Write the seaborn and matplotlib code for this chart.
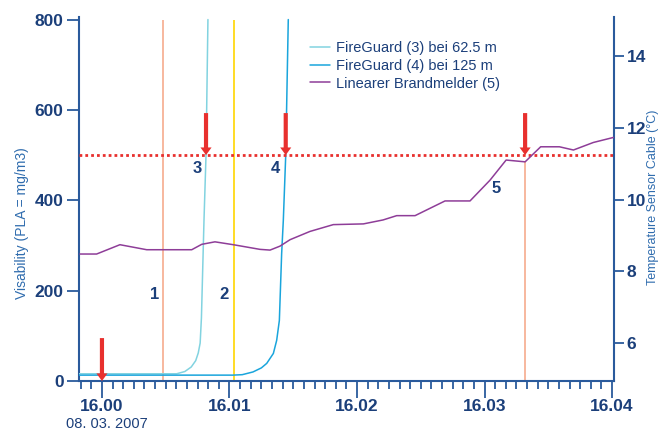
import numpy as np
import pandas as pd
import matplotlib
matplotlib.use("Agg")
import matplotlib.pyplot as plt
from matplotlib.ticker import FixedLocator
from matplotlib.lines import Line2D
import seaborn as sns

# ── Data (x in minutes after 16:00) ──────────────────────────────────────────
fg3_t = [-0.18, 0.50, 0.586, 0.65, 0.70, 0.735, 0.755, 0.77, 0.78, 0.80, 0.816, 0.831]
fg3_v = [16, 16, 16, 21, 31, 45, 62, 84, 140, 355, 500, 800]

fg4_t = [-0.18, 1.027, 1.10, 1.184, 1.25, 1.292, 1.344, 1.370, 1.391, 1.409, 1.422, 1.441, 1.461]
fg4_v = [13, 13, 14, 20, 29, 39, 61, 90, 134, 282, 355, 500, 800]

lbm_t = [-0.173, -0.042, 0.141, 0.351, 0.704, 0.782, 0.886, 1.03, 1.239, 1.318,
         1.396, 1.475, 1.631, 1.814, 2.05, 2.204, 2.311, 2.455, 2.69, 2.886,
         3.043, 3.169, 3.318, 3.44, 3.587, 3.697, 3.853, 4.01]
lbm_v = [8.48, 8.48, 8.74, 8.60, 8.60, 8.75, 8.82, 8.74, 8.61, 8.59,
         8.70, 8.88, 9.11, 9.30, 9.32, 9.43, 9.55, 9.55, 9.96, 9.96,
         10.54, 11.10, 11.05, 11.47, 11.47, 11.38, 11.59, 11.73]

threshold = 500
alarm_t = [0.478, 1.035, 3.318]          # 1, 2, 5
arrow_t = [0.0, 0.816, 1.441, 3.318]
arrow_top = [95, 593, 593, 593]
arrow_tip = [0, 500, 500, 500]
num_labels = ["1", "2", "3", "4", "5"]
num_t = [0.416, 0.957, 0.745, 1.357, 3.09]
num_v = [192, 192, 471, 471, 425]

xticks = [0, 1, 2, 3, 4]
xticklabels = ["16.00", "16.01", "16.02", "16.03", "16.04"]
xminor = [i / 12 for i in range(-2, 49) if i % 12 != 0]   # every 5 s
date_label = "08. 03. 2007"

# ── Style ────────────────────────────────────────────────────────────────────
NAVY = "#1b3f7a"
AXBLUE = "#2a5a9c"
LABBLUE = "#2f6cae"
C_FG3 = "#82d3e0"
C_FG4 = "#1aa5dc"
C_LBM = "#8e3d98"
SALMON = "#f6ab8e"
YELLOW = "#ffd500"
RED = "#e8302e"

sns.set_style("white")
plt.rcParams["font.family"] = ["Liberation Sans", "DejaVu Sans"]

fig = plt.figure(figsize=(6.72, 4.32), dpi=100)
ax = fig.add_axes([79 / 672, 1 - 381 / 432, (614 - 79) / 672, (381 - 17.3) / 432])
ax2 = ax.twinx()

df3 = pd.DataFrame({"t": fg3_t, "v": fg3_v})
df4 = pd.DataFrame({"t": fg4_t, "v": fg4_v})
df5 = pd.DataFrame({"t": lbm_t, "v": lbm_v})

# alarm lines
ax.vlines(alarm_t[0], 0, 800, color=SALMON, lw=1.2, zorder=1)
ax.vlines(alarm_t[1], 0, 800, color=YELLOW, lw=1.2, zorder=1)
ax.vlines(alarm_t[2], 0, 485, color=SALMON, lw=1.2, zorder=1)

sns.lineplot(data=df3, x="t", y="v", ax=ax, color=C_FG3, lw=1.1, sort=False, zorder=3)
sns.lineplot(data=df4, x="t", y="v", ax=ax, color=C_FG4, lw=1.1, sort=False, zorder=3)
sns.lineplot(data=df5, x="t", y="v", ax=ax2, color=C_LBM, lw=1.1, sort=False, zorder=3)

ax.axhline(threshold, color=RED, lw=2, dashes=(1, 1.1), zorder=4)

for t, top, tip in zip(arrow_t, arrow_top, arrow_tip):
    ax.annotate("", xy=(t, tip), xytext=(t, top),
                arrowprops=dict(facecolor=RED, edgecolor="none", width=3,
                                headwidth=8, headlength=5.5, shrink=0),
                zorder=5)

for lab, t, v in zip(num_labels, num_t, num_v):
    ax.text(t, v, lab, color=NAVY, fontsize=12, fontweight="bold",
            ha="center", va="center", zorder=6)

# axes ranges
ax.set_xlim(-0.18, 4.015)
ax.set_ylim(0, 805)
ax2.set_ylim(4.94, 15.08)

ax.xaxis.set_major_locator(FixedLocator(xticks))
ax.set_xticklabels(xticklabels)
ax.xaxis.set_minor_locator(FixedLocator(xminor))
ax.set_yticks([0, 200, 400, 600, 800])
ax2.set_yticks([6, 8, 10, 12, 14])

for a in (ax, ax2):
    a.set_xlabel("")
    a.set_ylabel("")
    for s in a.spines.values():
        s.set_color(AXBLUE)
        s.set_linewidth(1.5)
    a.spines["top"].set_visible(False)
ax.spines["right"].set_visible(False)
ax2.spines["left"].set_visible(False)
ax2.spines["bottom"].set_visible(False)

ax.tick_params(axis="x", which="major", bottom=True, length=12, width=1.3, color=AXBLUE,
               labelsize=12.5, labelcolor=NAVY, pad=1, direction="out")
ax.tick_params(axis="x", which="minor", bottom=True, length=6, width=1.3,
               color=AXBLUE, direction="out")
ax.tick_params(axis="y", left=True, length=9, width=1.3, color=AXBLUE, labelsize=12.5,
               labelcolor=NAVY, pad=2)
ax2.tick_params(axis="y", right=True, length=7, width=1.3, color=AXBLUE, labelsize=12.5,
                labelcolor=NAVY, pad=2)
for lab in ax.get_xticklabels() + ax.get_yticklabels() + ax2.get_yticklabels():
    lab.set_fontweight("bold")

# axis titles placed at their pixel positions
fig.text(22 / 672, 1 - 223 / 432, "Visability (PLA = mg/m3)", rotation=90,
         ha="center", va="center", color=LABBLUE, fontsize=10)
fig.text(653 / 672, 1 - 197.5 / 432, "Temperature Sensor Cable (°C)", rotation=90,
         ha="center", va="center", color=LABBLUE, fontsize=9)

ax.text(0.04, -0.118, date_label, transform=ax.get_xaxis_transform(),
        ha="center", va="center", color=NAVY, fontsize=10.5)

handles = [Line2D([], [], color=C_FG3, lw=1.1),
           Line2D([], [], color=C_FG4, lw=1.1),
           Line2D([], [], color=C_LBM, lw=1.1)]
labels = ["FireGuard (3) bei 62.5 m", "FireGuard (4) bei 125 m", "Linearer Brandmelder (5)"]
leg = ax2.legend(handles, labels, loc="upper left", bbox_to_anchor=(0.432, 0.935),
                 frameon=False, fontsize=10.5, handlelength=1.37, handletextpad=0.4,
                 labelspacing=0.26, borderaxespad=0, borderpad=0)
for txt in leg.get_texts():
    txt.set_color(NAVY)

ax.grid(False)
ax2.grid(False)

fig.savefig("out.png", dpi=100)
